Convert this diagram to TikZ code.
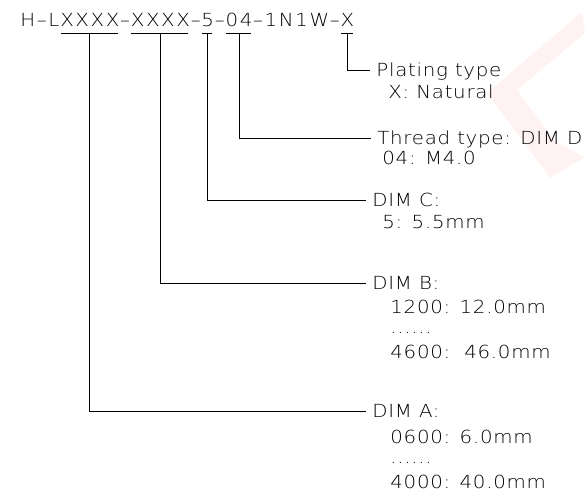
\documentclass[tikz,border=0pt]{standalone}
\usepackage{fontspec}
\setmainfont{DejaVu Sans ExtraLight}[FakeStretch=1.1,LetterSpace=4]
\usetikzlibrary{positioning}
\begin{document}
\begin{tikzpicture}[x=1pt,y=-1pt,line width=0.8pt,
  txt/.style={font=\fontsize{18pt}{21pt}\selectfont,inner sep=0pt,text=black},
  seg/.style={txt,font=\fontsize{18pt}{21pt}\selectfont\addfontfeature{LetterSpace=9},anchor=base west,text height=14pt,text depth=6pt},
  lab/.style={txt,anchor=west,inner xsep=6pt,text height=17pt,text depth=4pt},
  val/.style={txt,anchor=base west}]
  \useasboundingbox (0,0) rectangle (585,502);
  %marca d'agua
  \fill[red!5] (582,12) -- (487,93) -- (550,178) -- (585,157) -- (555,141) -- (517,90) -- (585,33) -- cycle;

  %codigo
  \node[seg] (pre) at (20,27) {H–L};
  \node[seg] (dA) at (pre.base east) {XXXX};
  \node[seg] (s1) at (dA.base east) {–};
  \node[seg] (dB) at (s1.base east) {XXXX};
  \node[seg] (s2) at (dB.base east) {–};
  \node[seg] (dC) at (s2.base east) {5};
  \node[seg] (s3) at (dC.base east) {–};
  \node[seg] (dD) at (s3.base east) {04};
  \node[seg] (s4) at (dD.base east) {–1N1W–};
  \node[seg] (pl) at (s4.base east) {X};
  \foreach \s in {dA,dB,dC,dD,pl}
    \draw ([xshift=1pt]\s.south west) -- ([xshift=-2pt]\s.south east);

  %rotulos
  \node[lab] (lP) at (370,70) {Plating type};
  \node[val] (lPa) at ([xshift=18pt,yshift=-22pt]lP.base west) {X: Natural};

  \node[lab] (lD) at (371,138) {Thread type: DIM D};
  \node[val] (lDa) at ([xshift=11pt,yshift=-20pt]lD.base west) {04: M4.0};

  \node[lab] (lC) at (366,200) {DIM C:};
  \node[val] (lCa) at ([xshift=16pt,yshift=-22pt]lC.base west) {5: 5.5mm};

  \node[lab] (lB) at (366,283) {DIM B:};
  \node[val] (lBa) at ([xshift=24pt,yshift=-24pt]lB.base west) {1200: 12.0mm};
  \node[val] (lBb) at ([yshift=-20pt]lBa.base west) {......};
  \node[val] (lBc) at ([yshift=-25pt]lBb.base west) {4600:~~46.0mm};

  \node[lab] (lA) at (366,411) {DIM A:};
  \node[val] (lAa) at ([xshift=24pt,yshift=-26pt]lA.base west) {0600: 6.0mm};
  \node[val] (lAb) at ([yshift=-20pt]lAa.base west) {......};
  \node[val] (lAc) at ([yshift=-25pt]lAb.base west) {4000: 40.0mm};

  %linhas de chamada
  \draw (pl.south) |- (lP.west);
  \draw (dD.south) |- (lD.west);
  \draw (dC.south) |- (lC.west);
  \draw (dB.south) |- (lB.west);
  \draw (dA.south) |- (lA.west);
\end{tikzpicture}
\end{document}
